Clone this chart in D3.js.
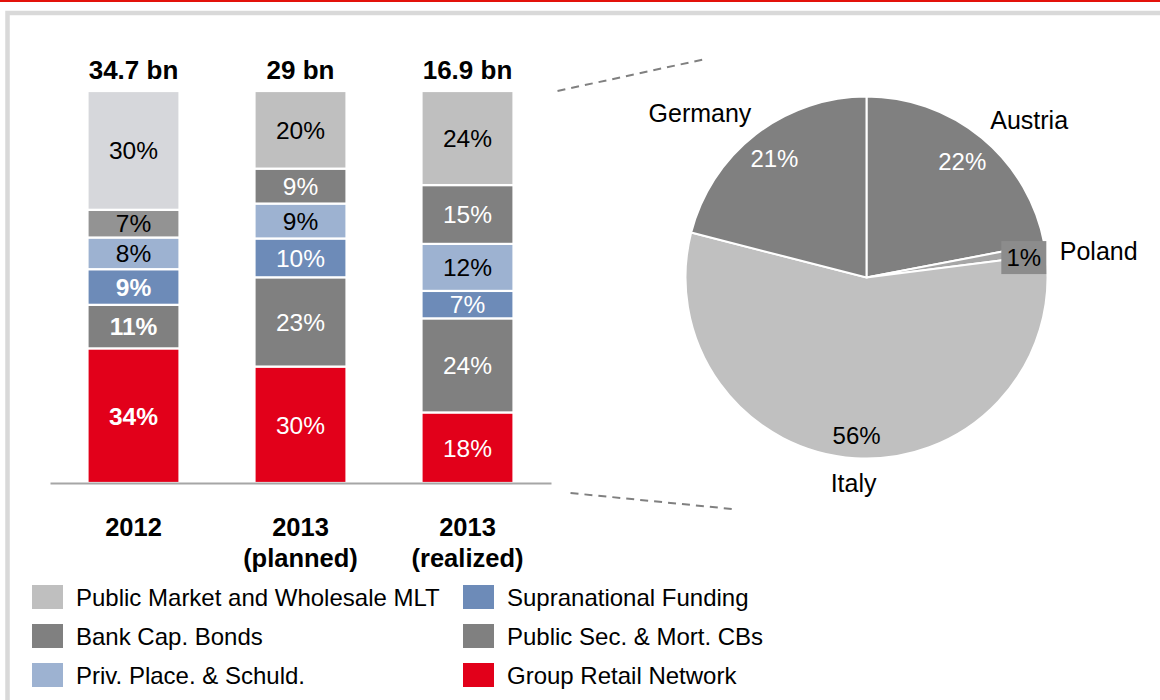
<!DOCTYPE html>
<html>
<head>
<meta charset="utf-8">
<script src="https://cdn.jsdelivr.net/npm/d3@7"></script>
<style>
  html, body { margin: 0; padding: 0; background: #fff; }
  svg { display: block; font-family: "Liberation Sans", Arial, sans-serif; }
</style>
</head>
<body>
<svg id="chart" width="1160" height="700"></svg>
<script>
// ---------- data ----------
const categories = ["2012", "2013 (planned)", "2013 (realized)"];
const categoryLines = [["2012"], ["2013", "(planned)"], ["2013", "(realized)"]];
const totals = ["34.7 bn", "29 bn", "16.9 bn"];

// stacked bottom -> top
const seriesNames = [
  "Group Retail Network",
  "Public Sec. & Mort. CBs",
  "Supranational Funding",
  "Priv. Place. & Schuld.",
  "Bank Cap. Bonds",
  "Public Market and Wholesale MLT"
];
const groupRetail   = [34, 30, 18];
const publicSec     = [11, 23, 24];
const supranational = [9, 10, 7];
const privPlace     = [8, 9, 12];
const bankCap       = [7, 9, 15];
const publicMarket  = [30, 20, 24];

const legendOrder = [
  "Public Market and Wholesale MLT", "Bank Cap. Bonds", "Priv. Place. & Schuld.",
  "Supranational Funding", "Public Sec. & Mort. CBs", "Group Retail Network"
];

const countries = ["Austria", "Poland", "Italy", "Germany"];
const countryShares = [22, 1, 56, 21];

// ---------- styles ----------
const seriesValues = [groupRetail, publicSec, supranational, privPlace, bankCap, publicMarket];
const seriesColor = {
  "Group Retail Network": "#e2001a",
  "Public Sec. & Mort. CBs": "#808080",
  "Supranational Funding": "#6d8bb8",
  "Priv. Place. & Schuld.": "#9db2d1",
  "Bank Cap. Bonds": "#808080",
  "Public Market and Wholesale MLT": "#bfbfbf"
};
// the 2012 column uses slightly lighter greys in the reference
const colorOverride = { "2012|Bank Cap. Bonds": "#939393", "2012|Public Market and Wholesale MLT": "#d6d7db" };
const countryColor = { "Austria": "#808080", "Poland": "#a6a6a6", "Italy": "#c0c0c0", "Germany": "#808080" };

const svg = d3.select("#chart");

// frame
svg.append("rect").attr("x", 0).attr("y", 0).attr("width", 1160).attr("height", 2).attr("fill", "#e3120b");
svg.append("rect").attr("x", 7.5).attr("y", 13).attr("width", 1300).attr("height", 900)
  .attr("fill", "none").attr("stroke", "#d9d9d9").attr("stroke-width", 4.5);

// ---------- stacked bars ----------
const x = d3.scaleBand().domain(categories).range([50, 551]).paddingInner(0.449).paddingOuter(0.2245);
const y = d3.scaleLinear().domain([0, 1]).range([483, 91]);

const rows = categories.map((c, i) => {
  const row = { category: c, idx: i };
  let sum = 0;
  seriesNames.forEach((s, k) => { row[s] = seriesValues[k][i]; sum += seriesValues[k][i]; });
  seriesNames.forEach(s => { row[s] = row[s] / sum; });
  return row;
});

const stack = d3.stack().keys(seriesNames);
const layers = stack(rows);

const segs = [];
layers.forEach((layer, k) => {
  layer.forEach((d, i) => {
    const key = categories[i] + "|" + layer.key;
    const fill = colorOverride[key] || seriesColor[layer.key];
    segs.push({ series: layer.key, cat: categories[i], ci: i, y0: d[0], y1: d[1], value: seriesValues[k][i], fill });
  });
});

const barG = svg.append("g");
barG.selectAll("rect").data(segs).join("rect")
  .attr("x", d => x(d.cat))
  .attr("width", x.bandwidth())
  .attr("y", d => y(d.y1))
  .attr("height", d => y(d.y0) - y(d.y1))
  .attr("fill", d => d.fill)
  .attr("stroke", "#fff").attr("stroke-width", 2.2);

barG.selectAll("text").data(segs).join("text")
  .attr("x", d => x(d.cat) + x.bandwidth() / 2)
  .attr("y", d => (y(d.y0) + y(d.y1)) / 2)
  .attr("dy", "0.36em")
  .attr("text-anchor", "middle")
  .attr("font-size", 24.5)
  .attr("fill", d => d3.lab(d.fill).l > 59 ? "#000" : "#fff")
  .attr("font-weight", d => (d.ci === 0 && d3.lab(d.fill).l <= 59) ? "bold" : "normal")
  .text(d => d.value + "%");

// totals
svg.append("g").selectAll("text").data(categories).join("text")
  .attr("x", d => x(d) + x.bandwidth() / 2)
  .attr("y", y(1) - 21)
  .attr("dy", "0.36em")
  .attr("text-anchor", "middle")
  .attr("font-size", 26).attr("font-weight", "bold").attr("fill", "#000")
  .text((d, i) => totals[i]);

// baseline axis
const xAxis = d3.axisBottom(x).tickSize(0).tickFormat("");
const axG = svg.append("g").attr("transform", `translate(0,${y(0)})`).call(xAxis);
axG.select(".domain").attr("stroke", "#a6a6a6").attr("stroke-width", 2.2);

// category labels
const catG = svg.append("g");
categories.forEach((c, i) => {
  const t = catG.append("text")
    .attr("x", x(c) + x.bandwidth() / 2)
    .attr("y", 527)
    .attr("text-anchor", "middle")
    .attr("font-size", 25.5).attr("font-weight", "bold").attr("fill", "#000");
  categoryLines[i].forEach((ln, j) => {
    t.append("tspan").attr("x", x(c) + x.bandwidth() / 2).attr("dy", j === 0 ? "0.36em" : 31).text(ln);
  });
});

// ---------- pie ----------
const cx = 866.5, cy = 277.5, R = 181;
const pieData = countries.map((c, i) => ({ country: c, share: countryShares[i] }));
const pie = d3.pie().value(d => d.share).sort(null);
const arcs = pie(pieData);
const arc = d3.arc().innerRadius(0).outerRadius(R);
const pieG = svg.append("g").attr("transform", `translate(${cx},${cy})`);

pieG.selectAll("path").data(arcs).join("path")
  .attr("d", arc)
  .attr("fill", d => countryColor[d.data.country])
  .attr("stroke", "#fff").attr("stroke-width", 2);

const pctRadius = { "Austria": 0.83, "Germany": 0.83, "Italy": 0.875, "Poland": 0.88 };
const midA = d => (d.startAngle + d.endAngle) / 2;
const polar = (a, r) => [Math.sin(a) * r, -Math.cos(a) * r];

arcs.forEach(d => {
  const c = d.data.country;
  const [px, py] = polar(midA(d), R * pctRadius[c]);
  if (c === "Poland") {
    pieG.append("rect").attr("x", px - 22.5).attr("y", py - 11.5).attr("width", 45).attr("height", 33)
      .attr("fill", "#8c8c8c");
    pieG.append("text").attr("x", px).attr("y", py + 5).attr("dy", "0.36em").attr("text-anchor", "middle")
      .attr("font-size", 24).attr("fill", "#000").text(d.data.share + "%");
  } else {
    pieG.append("text").attr("x", px).attr("y", py).attr("dy", "0.36em").attr("text-anchor", "middle")
      .attr("font-size", 24).attr("fill", d3.lab(countryColor[c]).l > 59 ? "#000" : "#fff")
      .text(d.data.share + "%");
  }
});

// outer country labels
const outerCfg = {
  "Austria": { r: 1.15, anchor: "middle", dx: 30, dy: 3 },
  "Germany": { r: 1.15, anchor: "middle", dx: -39, dy: 0 },
  "Italy":   { r: 1.14, anchor: "middle", dx: 0, dy: 0 },
  "Poland":  { r: 1.07, anchor: "start", dx: 2, dy: 4 }
};
arcs.forEach(d => {
  const c = d.data.country, cfg = outerCfg[c];
  const [px, py] = polar(midA(d), R * cfg.r);
  pieG.append("text").attr("x", px + cfg.dx).attr("y", py + cfg.dy).attr("dy", "0.36em")
    .attr("text-anchor", cfg.anchor).attr("font-size", 25).attr("fill", "#000").text(c);
});

// ---------- dashed connector lines ----------
const barRight = x(categories[2]) + x.bandwidth();
const conn = svg.append("g").attr("stroke", "#808080").attr("stroke-width", 2).attr("stroke-dasharray", "8,6").attr("fill", "none");
conn.append("line").attr("x1", barRight + 44).attr("y1", y(1)).attr("x2", cx - 161).attr("y2", 59);
conn.append("line").attr("x1", barRight + 57).attr("y1", y(0) + 10).attr("x2", cx - 134).attr("y2", 509);

// ---------- legend ----------
const legG = svg.append("g");
legendOrder.forEach((s, i) => {
  const col = Math.floor(i / 3), row = i % 3;
  const lx = col === 0 ? 32 : 463;
  const ly = 597 + row * 39;
  legG.append("rect").attr("x", lx).attr("y", ly - 12).attr("width", 31).attr("height", 24)
    .attr("fill", seriesColor[s]);
  legG.append("text").attr("x", lx + 44).attr("y", ly).attr("dy", "0.36em")
    .attr("font-size", 24).attr("fill", "#000").text(s);
});
</script>
</body>
</html>
